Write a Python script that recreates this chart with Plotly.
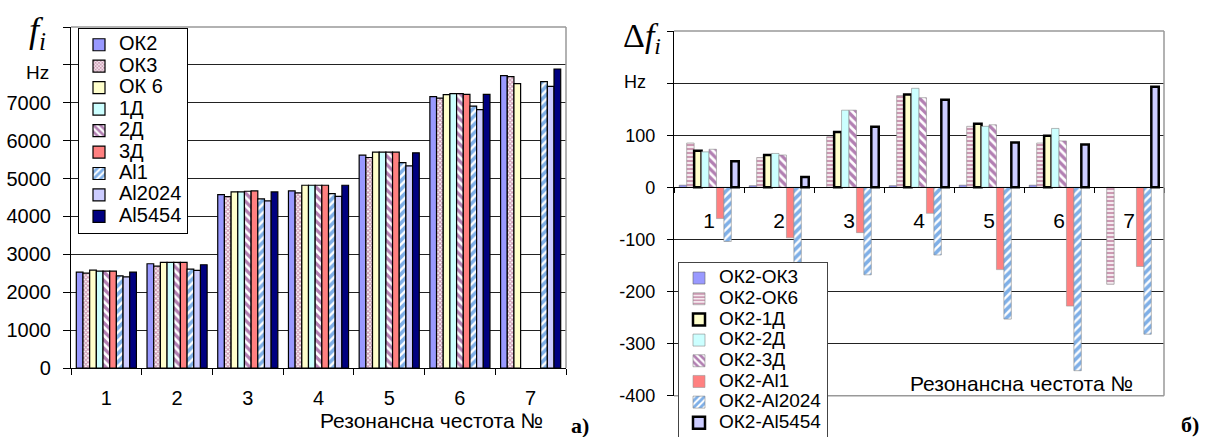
import plotly.graph_objects as go

categories = ["1", "2", "3", "4", "5", "6", "7"]

# Left chart: resonance frequencies f_i, Hz
ok2 = [2532, 2751, 4577, 4674, 5617, 7161, 7716]
ok3 = [2505, 2690, 4524, 4621, 5556, 7125, 7690]
ok6 = [2584, 2786, 4647, 4823, 5697, 7213, 7505]
d1 = [2558, 2786, 4647, 4823, 5697, 7240, None]
d2 = [2558, 2786, 4665, 4823, 5697, 7240, None]
d3 = [2558, 2786, 4674, 4823, 5697, 7222, None]
al1 = [2434, 2610, 4462, 4603, 5423, 6913, 7558]
al2024 = [2407, 2575, 4409, 4532, 5335, 6817, 7434]
al5454 = [2532, 2725, 4647, 4823, 5679, 7222, 7892]

left_names = ["ОК2", "ОК3", "ОК 6", "1Д", "2Д", "3Д", "Al1", "Al2024", "Al5454"]
left_values = [ok2, ok3, ok6, d1, d2, d3, al1, al2024, al5454]

# Right chart: differences delta f_i, Hz
ok2_ok3 = [4, 3, None, 3, 4, 4, None]
ok2_ok6 = [85, 57, 97, 176, 117, 85, -186]
ok2_1d = [70, 62, 106, 178, 122, 99, None]
ok2_2d = [68, 65, 148, 190, 117, 113, None]
ok2_3d = [73, 62, 148, 172, 120, 89, None]
ok2_al1 = [-60, -97, -87, -50, -158, -228, -152]
ok2_al2024 = [-104, -165, -168, -130, -253, -352, -282]
ok2_al5454 = [50, 20, 116, 168, 86, 82, 193]

right_names = ["ОК2-ОК3", "ОК2-ОК6", "ОК2-1Д", "ОК2-2Д", "ОК2-3Д", "ОК2-Al1", "ОК2-Al2024", "ОК2-Al5454"]
right_values = [ok2_ok3, ok2_ok6, ok2_1d, ok2_2d, ok2_3d, ok2_al1, ok2_al2024, ok2_al5454]

left_ticks = list(range(0, 9001, 1000))
left_ticktext = [str(v) for v in left_ticks[:-2]] + ["", ""]
right_ticks = list(range(-400, 301, 100))
right_ticktext = [str(v) for v in right_ticks[:-2]] + ["", ""]

SANS = "Liberation Sans, Arial, sans-serif"
SERIF = "Liberation Serif, Times New Roman, serif"

W, H = 1205, 437
L_X = [71 / W, 566 / W]
L_Y = [1 - 368 / H, 1 - 27 / H]
R_X = [674 / W, 1164 / W]
R_Y = [1 - 395.7 / H, 1 - 31 / H]
R_ZERO = R_Y[0] + (0 - right_ticks[0]) / (right_ticks[-1] - right_ticks[0]) * (R_Y[1] - R_Y[0])


def solid(color, lw=1.2, lc="black"):
    return dict(color=color, line=dict(color=lc, width=lw))


def patt(shape, fg, size, sol, lw=1.2, lc="black"):
    return dict(color="white", line=dict(color=lc, width=lw),
                pattern=dict(shape=shape, fgcolor=fg, bgcolor="white", size=size, solidity=sol))


left_markers = [
    solid("#9999FF"),
    patt("x", "#993366", 3, 0.6),
    solid("#FFFFCC"),
    solid("#CCFFFF"),
    patt("\\", "#660066", 6, 0.55),
    solid("#FF8080"),
    patt("/", "#0060D0", 6, 0.6),
    solid("#CCCCFF"),
    solid("#000080"),
]

right_markers = [
    solid("#9999FF", 0.6, "#666666"),
    patt("-", "#993366", 4, 0.6, 0.6, "#888888"),
    solid("#FFFFCC", 2.5, "black"),
    solid("#CCFFFF", 0.6, "#888888"),
    patt("\\", "#660066", 6, 0.55, 0.6, "#888888"),
    solid("#FF8080", 0.6, "#999999"),
    patt("/", "#0060D0", 6, 0.6, 0.6, "#888888"),
    solid("#CCCCFF", 2.5, "black"),
]


def big(name, px):
    return '<span style="font-size:%dpx">%s</span>' % (px, name)


fig = go.Figure()

for name, vals, mk in zip(left_names, left_values, left_markers):
    fig.add_trace(go.Bar(x=categories, y=vals, name=big(name, 20), marker=mk,
                         xaxis="x", yaxis="y", legend="legend"))

for name, vals, mk in zip(right_names, right_values, right_markers):
    fig.add_trace(go.Bar(x=categories, y=vals, name=big(name, 19), marker=mk,
                         xaxis="x2", yaxis="y2", legend="legend2"))

fig.update_layout(
    width=W, height=H,
    margin=dict(l=0, r=0, t=0, b=0, autoexpand=False),
    paper_bgcolor="white", plot_bgcolor="white",
    barmode="group", bargap=0.15, bargroupgap=0,
    font=dict(family=SANS, color="black"),
    xaxis=dict(domain=L_X, anchor="y", type="category", categoryarray=categories,
               showline=True, linecolor="black", linewidth=1.2,
               ticks="outside", tickson="boundaries", ticklen=6, tickcolor="black",
               ticklabelstandoff=12, tickfont=dict(size=20), showgrid=False),
    yaxis=dict(domain=L_Y, anchor="x", range=[0, 9000], tickvals=left_ticks,
               ticktext=left_ticktext, showline=True, linecolor="black", linewidth=1.2,
               ticks="outside", ticklen=7, tickcolor="black", ticklabelstandoff=8,
               tickfont=dict(size=20), showgrid=True, gridcolor="#222222", gridwidth=1,
               zeroline=False),
    xaxis2=dict(domain=R_X, anchor="free", position=R_ZERO, type="category",
                categoryarray=categories, showline=True, linecolor="black", linewidth=1.2,
                ticks="outside", tickson="boundaries", ticklen=5, tickcolor="black",
                ticklabelstandoff=14, tickfont=dict(size=21), showgrid=False),
    yaxis2=dict(domain=R_Y, anchor="x2", range=[-400, 300], tickvals=right_ticks,
                ticktext=right_ticktext, showline=True, linecolor="black", linewidth=1.2,
                ticks="outside", ticklen=6, tickcolor="black", ticklabelstandoff=8,
                tickfont=dict(size=18), showgrid=True, gridcolor="#222222", gridwidth=1,
                zeroline=False),
    legend=dict(x=78 / W, y=1 - 28 / H, xanchor="left", yanchor="top",
                bgcolor="white", bordercolor="black", borderwidth=1,
                font=dict(size=14.2, family=SANS), tracegroupgap=0, itemwidth=30,
                entrywidth=112),
    legend2=dict(x=678 / W, y=1 - 261.7 / H, xanchor="left", yanchor="top",
                 bgcolor="white", bordercolor="#444444", borderwidth=1,
                 font=dict(size=13.6, family=SANS), tracegroupgap=0, itemwidth=30,
                 entrywidth=132),
    showlegend=True,
)

# plot-area borders (grey top/right, plus bottom on right chart)
border = dict(color="#999999", width=1.5)
fig.add_shape(type="line", xref="x domain", yref="y domain", x0=0, x1=1, y0=1, y1=1, line=border)
fig.add_shape(type="line", xref="x domain", yref="y domain", x0=1, x1=1, y0=0, y1=1, line=border)
fig.add_shape(type="line", xref="x2 domain", yref="y2 domain", x0=0, x1=1, y0=1, y1=1, line=border)
fig.add_shape(type="line", xref="x2 domain", yref="y2 domain", x0=1, x1=1, y0=0, y1=1, line=border)
fig.add_shape(type="line", xref="x2 domain", yref="y2 domain", x0=0, x1=1, y0=0, y1=0, line=border)

ann = [
    dict(x=37 / W, y=1 - 33 / H, text="<i>f</i><sub><i>i</i></sub>",
         font=dict(family=SERIF, size=36)),
    dict(x=37 / W, y=1 - 72 / H, text="Hz", font=dict(family=SANS, size=19)),
    dict(x=545 / W, y=1 - 420 / H, text="Резонансна честота №", xanchor="right",
         font=dict(family=SANS, size=21)),
    dict(x=591 / W, y=1 - 425 / H, text="<b>а)</b>", xanchor="right",
         font=dict(family=SERIF, size=22)),
    dict(x=642 / W, y=1 - 38 / H, text="Δ<i>f</i><sub><i>i</i></sub>",
         font=dict(family=SERIF, size=34)),
    dict(x=635 / W, y=1 - 82 / H, text="Hz", font=dict(family=SANS, size=18)),
    dict(x=1135 / W, y=1 - 383 / H, text="Резонансна честота №", xanchor="right",
         font=dict(family=SANS, size=21)),
    dict(x=1201 / W, y=1 - 424 / H, text="<b>б)</b>", xanchor="right",
         font=dict(family=SERIF, size=22)),
]
for a in ann:
    a.setdefault("xanchor", "center")
    fig.add_annotation(xref="paper", yref="paper", showarrow=False, yanchor="middle", **a)

fig.write_html("out.html", config={"displayModeBar": False},
               post_script="document.body.style.margin='0';document.body.style.overflow='hidden';")
